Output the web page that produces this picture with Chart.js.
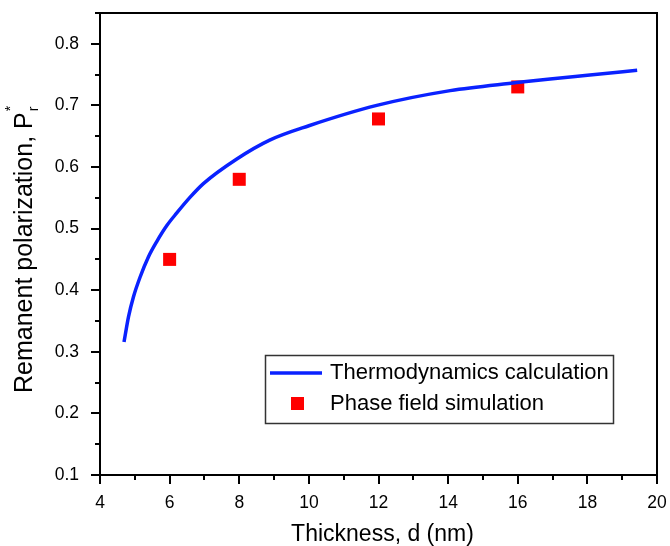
<!DOCTYPE html>
<html>
<head>
<meta charset="utf-8">
<script src="https://cdn.jsdelivr.net/npm/chart.js@4"></script>
<style>
  body { margin: 0; background: #fff; }
  #wrap { width: 670px; height: 546px; }
</style>
</head>
<body>
<div id="wrap"><canvas id="chart"></canvas></div>
<script>
// thermodynamics curve
var thermoX = [4.69, 4.82, 4.96, 5.15, 5.39, 5.63, 5.92, 6.2, 6.59, 6.97, 7.93, 8.89, 10.0, 11.95, 14.06, 15.97, 16.93, 18.0, 19.43];
var thermoY = [0.316, 0.357, 0.389, 0.421, 0.454, 0.479, 0.505, 0.525, 0.551, 0.573, 0.613, 0.644, 0.667, 0.700, 0.724, 0.737, 0.743, 0.749, 0.757];

// phase field points
var simX = [6, 8, 12, 16];
var simY = [0.45, 0.58, 0.678, 0.73];

var xTicks = [4, 6, 8, 10, 12, 14, 16, 18, 20];
var yTicks = [0.1, 0.2, 0.3, 0.4, 0.5, 0.6, 0.7, 0.8];

var blue = '#0a22ff';
var red = '#ff0000';
var font = '"Liberation Sans", Arial, sans-serif';

function pts(xs, ys) {
    return xs.map(function (x, i) { return { x: x, y: ys[i] }; });
}

// frame, ticks, axis titles and legend box
var decor = {
    id: 'decor',
    afterDatasetsDraw: function (chart) {
        var ctx = chart.ctx;
        var a = chart.chartArea;
        var xs = chart.scales.x, ys = chart.scales.y;
        ctx.save();
        ctx.strokeStyle = '#000';
        ctx.lineWidth = 2;
        ctx.strokeRect(a.left, a.top, a.right - a.left, a.bottom - a.top);

        ctx.beginPath();
        for (var v = 4; v <= 20; v++) {
            var px = Math.round(xs.getPixelForValue(v));
            var len = (v % 2 === 0) ? 9 : 5;
            ctx.moveTo(px, a.bottom);
            ctx.lineTo(px, a.bottom + len);
        }
        for (var k = 2; k <= 17; k++) {
            var py = Math.round(ys.getPixelForValue(k * 0.05));
            var l2 = (k % 2 === 0) ? 9 : 5;
            ctx.moveTo(a.left, py);
            ctx.lineTo(a.left - l2, py);
        }
        ctx.stroke();

        // axis titles
        ctx.fillStyle = '#000';
        ctx.font = '23px ' + font;
        ctx.textAlign = 'center';
        ctx.textBaseline = 'alphabetic';
        ctx.fillText('Thickness, d (nm)', (a.left + a.right) / 2 + 4, 541);

        ctx.save();
        ctx.translate(32, 393);
        ctx.rotate(-Math.PI / 2);
        ctx.textAlign = 'left';
        ctx.font = '25px ' + font;
        var main = 'Remanent polarization, P';
        ctx.fillText(main, 0, 0);
        var w = ctx.measureText(main).width;
        ctx.font = '14px ' + font;
        ctx.fillText('r', w + 1, 6);
        ctx.fillText('*', w + 1, -17);
        ctx.restore();

        // legend
        ctx.lineWidth = 1.5;
        ctx.strokeStyle = '#333';
        ctx.strokeRect(265.5, 355.5, 348, 68);
        ctx.strokeStyle = blue;
        ctx.lineWidth = 3.5;
        ctx.beginPath();
        ctx.moveTo(270, 373);
        ctx.lineTo(322, 373);
        ctx.stroke();
        ctx.fillStyle = red;
        ctx.fillRect(291, 397, 13, 13);
        ctx.fillStyle = '#000';
        ctx.font = '22px ' + font;
        ctx.textAlign = 'left';
        ctx.textBaseline = 'middle';
        ctx.fillText('Thermodynamics calculation', 330, 373);
        ctx.fillText('Phase field simulation', 330, 404);
        ctx.restore();
    }
};

var ctx = document.getElementById('chart').getContext('2d');
var chart = new Chart(ctx, {
    type: 'line',
    data: {
        datasets: [{
            label: 'Thermodynamics calculation',
            data: pts(thermoX, thermoY),
            borderColor: blue,
            borderWidth: 3.5,
            pointRadius: 0,
            cubicInterpolationMode: 'monotone',
            fill: false
        }, {
            type: 'scatter',
            label: 'Phase field simulation',
            data: pts(simX, simY),
            pointStyle: 'rect',
            pointRadius: 9.2,
            pointHoverRadius: 9.2,
            backgroundColor: red,
            borderWidth: 0,
            showLine: false
        }]
    },
    options: {
        animation: false,
        responsive: true,
        maintainAspectRatio: false,
        layout: { padding: { top: 13, right: 13, left: 0, bottom: 0 } },
        plugins: { legend: { display: false }, tooltip: { enabled: false } },
        scales: {
            x: {
                type: 'linear',
                min: 4,
                max: 20,
                afterFit: function (s) { s.height = 71; s.paddingLeft = 0; s.paddingRight = 0; },
                afterBuildTicks: function (s) { s.ticks = xTicks.map(function (v) { return { value: v }; }); },
                grid: { display: false },
                border: { display: false },
                ticks: {
                    color: '#000',
                    padding: 10,
                    maxRotation: 0,
                    font: { size: 17.5, family: font }
                }
            },
            y: {
                type: 'linear',
                min: 0.1,
                max: 0.85,
                afterFit: function (s) { s.width = 100; s.paddingTop = 0; s.paddingBottom = 0; },
                afterBuildTicks: function (s) { s.ticks = yTicks.map(function (v) { return { value: v }; }); },
                grid: { display: false },
                border: { display: false },
                ticks: {
                    color: '#000',
                    padding: 13,
                    font: { size: 17.5, family: font },
                    callback: function (v) { return v.toFixed(1); }
                }
            }
        }
    },
    plugins: [decor]
});
</script>
</body>
</html>
